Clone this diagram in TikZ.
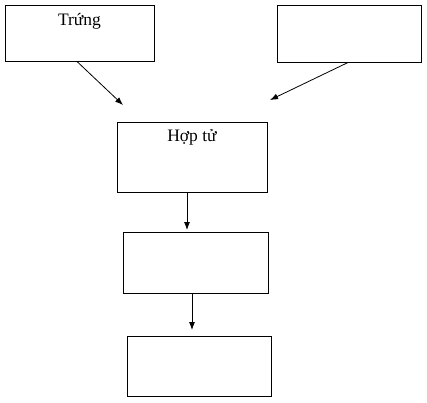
\documentclass[tikz,border=0pt]{standalone}
\usepackage{fontspec}
\setmainfont{Liberation Serif}
\usetikzlibrary{arrows.meta}
\begin{document}
\begin{tikzpicture}[x=1pt, y=-1pt,
    box/.style={draw, line width=1pt, inner sep=0pt},
    lbl/.style={anchor=base, font=\fontsize{17.5}{20}\selectfont, inner sep=0pt},
    arr/.style={line width=0.8pt, -{Latex[length=8pt,width=6pt]}}]
    \useasboundingbox (0,0) rectangle (427,402);
    % khung
    \node[box, minimum width=149pt, minimum height=56pt] (trung) at (79.5, 33) {};
    \node[box, minimum width=144pt, minimum height=57pt] (tinhtrung) at (349, 33.5) {};
    \node[box, minimum width=150pt, minimum height=70pt] (hoptu) at (192, 157) {};
    \node[box, minimum width=145pt, minimum height=61pt] (phoi) at (195.5, 262.5) {};
    \node[box, minimum width=144pt, minimum height=60pt] (conon) at (199, 366) {};
    % chu
    \node[lbl] (ttrung) at ([yshift=-21pt]trung.north) {Trứng};
    \node[lbl] (thoptu) at ([yshift=-20pt]hoptu.north) {Hợp tử};
    % mui ten
    \coordinate (e1) at (123, 105);
    \coordinate (e2) at (270, 100);
    \coordinate (e3) at (187, 230);
    \coordinate (e4) at (192, 330);
    \draw[arr] ([xshift=-2.5pt]trung.south) -- (e1);
    \draw[arr] ([xshift=-1pt]tinhtrung.south) -- (e2);
    \draw[arr] ([xshift=-5pt]hoptu.south) -- (e3);
    \draw[arr] ([xshift=-3.5pt]phoi.south) -- (e4);
\end{tikzpicture}
\end{document}
